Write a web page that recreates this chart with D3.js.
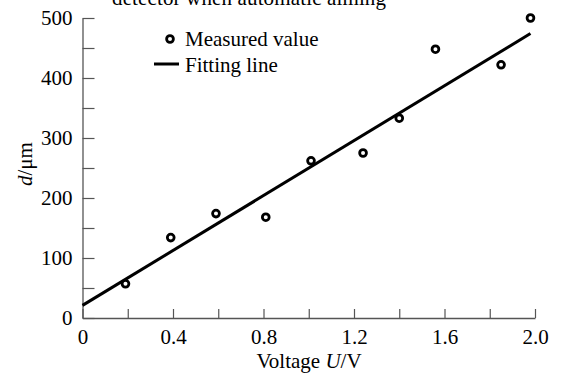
<!DOCTYPE html>
<html>
<head>
<meta charset="utf-8">
<script src="https://cdn.jsdelivr.net/npm/d3@7"></script>
<style>
  body { margin: 0; background: #fff; }
  text { font-family: "Liberation Serif", "Times New Roman", serif; }
</style>
</head>
<body>
<div id="chart"></div>
<script>
// measured points
const voltage = [0.19, 0.39, 0.59, 0.81, 1.01, 1.24, 1.40, 1.56, 1.85, 1.98];
const diameter = [57, 134, 174, 168, 262, 275, 333, 448, 422, 500];

// fitting line d = a + b*U
const fitIntercept = 21;
const fitSlope = 228.8;
const fitRange = [0, 1.98];

const xTicks = [0, 0.4, 0.8, 1.2, 1.6, 2.0];
const xMinorTicks = [0.2, 0.6, 1.0, 1.4, 1.8];
const yTicks = [0, 100, 200, 300, 400, 500];
const yMinorTicks = [50, 150, 250, 350, 450];

const W = 563, H = 374;
const margin = {top: 18, right: 28, bottom: 56, left: 82.5};
const width = W - margin.left - margin.right,
      height = H - margin.top - margin.bottom;
const fontSize = "21px";

const svg = d3.select("#chart")
  .append("svg")
    .attr("width", W)
    .attr("height", H);

const g = svg.append("g")
  .attr("transform", "translate(" + margin.left + "," + margin.top + ")");

const x = d3.scaleLinear().domain([0, 2.0]).range([0, width]);
const y = d3.scaleLinear().domain([0, 500]).range([height, 0]);

const axisColor = "#555";

// X axis (ticks pointing inward)
const xAxis = g.append("g")
  .attr("transform", `translate(0, ${height})`)
  .call(d3.axisBottom(x).tickValues(xTicks.concat(xMinorTicks)).tickSizeInner(-9).tickSizeOuter(0)
    .tickFormat(d => xTicks.includes(d) ? (d === 0 ? "0" : d3.format(".1f")(d)) : ""));
xAxis.select(".domain").attr("stroke", axisColor).attr("stroke-width", 1.3);
xAxis.selectAll(".tick line").attr("stroke", axisColor).attr("stroke-width", 1.2);
xAxis.selectAll(".tick text")
  .attr("y", 11)
  .attr("dy", "0.71em")
  .style("font-size", fontSize)
  .attr("fill", "#000");

// Y axis
const yAxis = g.append("g")
  .call(d3.axisLeft(y).tickValues(yTicks.concat(yMinorTicks)).tickSizeInner(-12).tickSizeOuter(0)
    .tickFormat(d => yTicks.includes(d) ? d : ""));
yAxis.select(".domain").attr("stroke", axisColor).attr("stroke-width", 1.3);
yAxis.selectAll(".tick line").attr("stroke", axisColor).attr("stroke-width", 1.2);
yAxis.selectAll(".tick text")
  .attr("x", -10)
  .style("font-size", fontSize)
  .attr("fill", "#000");

// fitting line
g.append("line")
  .attr("x1", x(fitRange[0]))
  .attr("y1", y(fitIntercept + fitSlope * fitRange[0]))
  .attr("x2", x(fitRange[1]))
  .attr("y2", y(fitIntercept + fitSlope * fitRange[1]))
  .attr("stroke", "#000")
  .attr("stroke-width", 3);

// measured points
g.append("g")
  .selectAll("circle")
  .data(voltage)
  .join("circle")
    .attr("cx", d => x(d))
    .attr("cy", (d, i) => y(diameter[i]))
    .attr("r", 3.4)
    .attr("fill", "#fff")
    .attr("stroke", "#000")
    .attr("stroke-width", 2.8);

// legend
const legend = svg.append("g");
legend.append("circle")
  .attr("cx", 170).attr("cy", 39).attr("r", 3.4)
  .attr("fill", "#fff").attr("stroke", "#000").attr("stroke-width", 2.8);
legend.append("text")
  .attr("x", 185).attr("y", 46)
  .style("font-size", fontSize)
  .text("Measured value");
legend.append("line")
  .attr("x1", 154).attr("x2", 179).attr("y1", 64).attr("y2", 64)
  .attr("stroke", "#000").attr("stroke-width", 3);
legend.append("text")
  .attr("x", 185).attr("y", 72)
  .style("font-size", fontSize)
  .text("Fitting line");

// title, cut at the top of the picture (as in the reference)
svg.append("text")
  .attr("x", 112).attr("y", 5)
  .style("font-size", "21px")
  .attr("textLength", 274)
  .text("detector when automatic aiming");

// axis titles
const xTitle = svg.append("text")
  .attr("x", 309).attr("y", 368)
  .attr("text-anchor", "middle")
  .style("font-size", fontSize);
xTitle.append("tspan").text("Voltage ");
xTitle.append("tspan").style("font-style", "italic").text("U");
xTitle.append("tspan").text("/V");

const yTitle = svg.append("text")
  .attr("transform", "translate(32, 164) rotate(-90)")
  .attr("text-anchor", "middle")
  .style("font-size", fontSize);
yTitle.append("tspan").style("font-style", "italic").text("d");
yTitle.append("tspan").text("/μm");
</script>
</body>
</html>
